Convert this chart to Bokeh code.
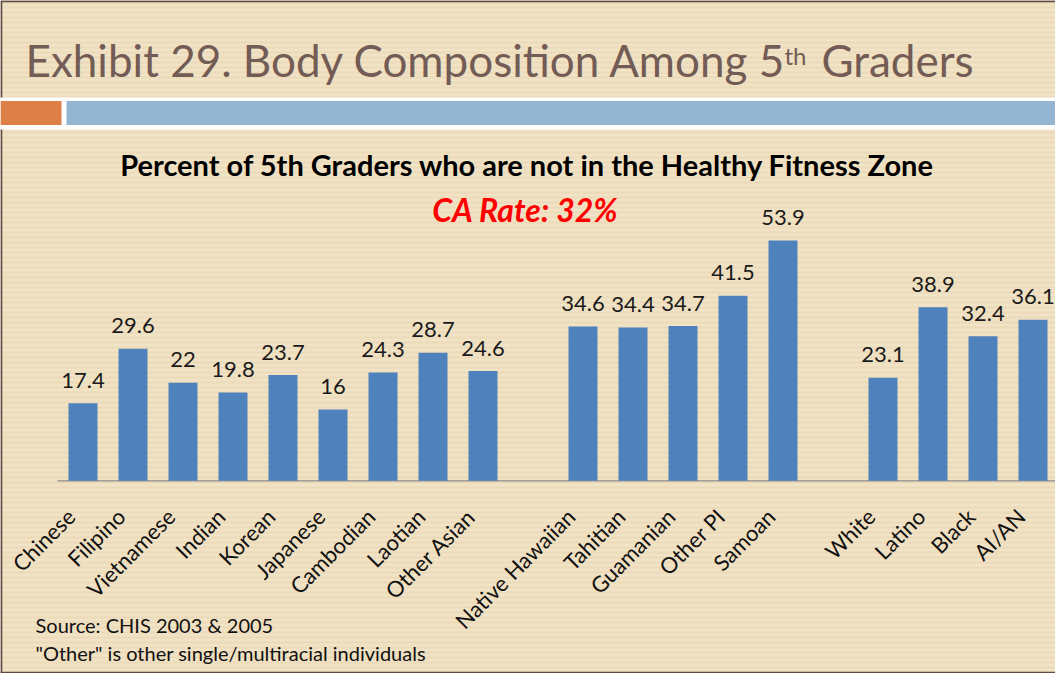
from bokeh.plotting import figure
from bokeh.models import ColumnDataSource, Range1d
from bokeh.core.properties import value
from bokeh.embed import file_html
from bokeh.resources import INLINE

# ---------------- data ----------------
asian_cats = ["Chinese", "Filipino", "Vietnamese", "Indian", "Korean",
              "Japanese", "Cambodian", "Laotian", "Other Asian"]
asian_vals = [17.4, 29.6, 22, 19.8, 23.7, 16, 24.3, 28.7, 24.6]
pi_cats = ["Native Hawaiian", "Tahitian", "Guamanian", "Other PI", "Samoan"]
pi_vals = [34.6, 34.4, 34.7, 41.5, 53.9]
other_cats = ["White", "Latino", "Black", "AI/AN"]
other_vals = [23.1, 38.9, 32.4, 36.1]

main_title = "Exhibit 29. Body Composition Among 5"
main_title_sup = "th"
main_title_end = "Graders"
chart_title = "Percent of 5th Graders who are not in the Healthy Fitness Zone"
ca_rate = "CA Rate: 32%"
notes = ["Source:  CHIS 2003 & 2005", "\"Other\" is other single/multiracial individuals"]

# ---------------- layout helpers ----------------
W, H = 1055, 673          # canvas (page offset 8px)
SLOT_PX = 50.0            # px per category slot
UNIT_PX = 4.46            # px per percent
first_center_px = 82.5    # canvas px of first slot centre
baseline_px = 480.3       # canvas px of value 0

x_start = -first_center_px / SLOT_PX
x_end = x_start + W / SLOT_PX
y_top = baseline_px / UNIT_PX
y_bot = -(H - baseline_px) / UNIT_PX


def dx(sx):  # page px -> data x
    return x_start + (sx - 8) / SLOT_PX


def dy(sy):  # page px -> data y
    return y_top - (sy - 8) / UNIT_PX


def mid(baseline, size):  # text centre from a baseline position (page px)
    return dy(baseline - 0.36 * size)


# slot positions: groups separated by one empty slot
cats, vals, slots = [], [], []
pos = 0
for gc, gv in [(asian_cats, asian_vals), (pi_cats, pi_vals), (other_cats, other_vals)]:
    for c, v in zip(gc, gv):
        cats.append(c)
        vals.append(v)
        slots.append(pos)
        pos += 1
    pos += 1

VAL_FS = 22
CAT_FS = 22
src = ColumnDataSource(dict(
    x=slots, top=vals, cat=cats,
    lbl=[f"{v:g}" for v in vals],
    lbl_y=[v + (15 + 0.36 * VAL_FS) / UNIT_PX for v in vals],
    cat_x=[s - 12 / SLOT_PX for s in slots],
    cat_y=[dy(520)] * len(slots),
))

p = figure(width=W, height=H, min_border=0,
           x_range=Range1d(x_start, x_end), y_range=Range1d(y_bot, y_top),
           x_axis_location=None, y_axis_location=None,
           toolbar_location=None, output_backend="svg",
           outline_line_color=None, background_fill_color="white",
           border_fill_color="white")
p.xgrid.visible = False
p.ygrid.visible = False

BASE = "#F1E3C6"
STRIPE = "#E7D5B0"

# background + stripes
p.quad(left=dx(8), right=dx(1064), top=dy(8), bottom=dy(682),
       fill_color=BASE, line_color=None)
sl, sr, st, sb = [], [], [], []
yy = 9
while yy < 682:
    sl.append(dx(8)); sr.append(dx(1064)); st.append(dy(yy)); sb.append(dy(yy + 2))
    yy += 5
p.quad(left=sl, right=sr, top=st, bottom=sb, fill_color=STRIPE,
       fill_alpha=0.6, line_color=None)
# white separators
p.quad(left=dx(8), right=dx(1064), top=dy(105), bottom=dy(137),
       fill_color="white", line_color=None)
# orange / blue bars
p.quad(left=dx(8), right=dx(69), top=dy(108.5), bottom=dy(132.5),
       fill_color="#DD8047", line_color=None)
p.quad(left=dx(74), right=dx(1064), top=dy(108.5), bottom=dy(132.5),
       fill_color="#94B6D2", line_color=None)
# borders
BORDER = "#5E4C42"
p.line(x=[dx(8.8), dx(1064)], y=[dy(8.8), dy(8.8)], line_color=BORDER, line_width=2)
p.line(x=[dx(8.8), dx(8.8)], y=[dy(8), dy(105)], line_color=BORDER, line_width=2)
p.line(x=[dx(8.8), dx(8.8)], y=[dy(137), dy(681)], line_color=BORDER, line_width=2)
p.line(x=[dx(8), dx(1064)], y=[dy(680.2), dy(680.2)], line_color=BORDER, line_width=2)

# main title
TITLE_C = "#735C55"
p.text(x=[dx(33)], y=[mid(83, 44)], text=[main_title], text_font=value("Lato"),
       text_font_size="44px", text_color=TITLE_C, text_baseline="middle",
       text_align="left")
p.text(x=[dx(792)], y=[mid(72, 24)], text=[main_title_sup], text_font=value("Lato"),
       text_font_size="24px", text_color=TITLE_C, text_baseline="middle",
       text_align="left")
p.text(x=[dx(829)], y=[mid(83, 44)], text=[main_title_end], text_font=value("Lato"),
       text_font_size="44px", text_color=TITLE_C, text_baseline="middle",
       text_align="left")

# chart title + CA rate
p.text(x=[dx(535)], y=[mid(182.7, 29)], text=[chart_title], text_font=value("Lato"),
       text_font_size="29px", text_font_style="bold", text_color="black",
       text_baseline="middle", text_align="center")
p.text(x=[dx(533)], y=[mid(228.3, 32)], text=[ca_rate], text_font=value("Lato"),
       text_font_size="32px", text_font_style="bold italic", text_color="#FF0000",
       text_baseline="middle", text_align="center")

# axis line
p.line(x=[dx(65), x_end], y=[0, 0], line_color="#8A8A8A", line_width=1.3)

# bars
p.vbar(x="x", top="top", bottom=0, width=29 / SLOT_PX, source=src,
       fill_color="#4F81BD", line_color=None)

# value labels
p.text(x="x", y="lbl_y", text="lbl", source=src, text_font=value("Lato"),
       text_font_size=f"{VAL_FS}px", text_color="#1A1A1A", text_align="center",
       text_baseline="middle")

# category labels
p.text(x="cat_x", y="cat_y", text="cat", source=src, text_font=value("Lato"),
       text_font_size=f"{CAT_FS}px", text_color="#111111", text_align="right",
       text_baseline="middle", angle=0.785398)

# notes
p.text(x=[dx(43), dx(43)], y=[mid(640, 20), mid(668, 20)], text=notes,
       text_font=value("Lato"), text_font_size="20px", text_color="#111111",
       text_align="left", text_baseline="middle")

open("out.html", "w").write(file_html(p, INLINE))
